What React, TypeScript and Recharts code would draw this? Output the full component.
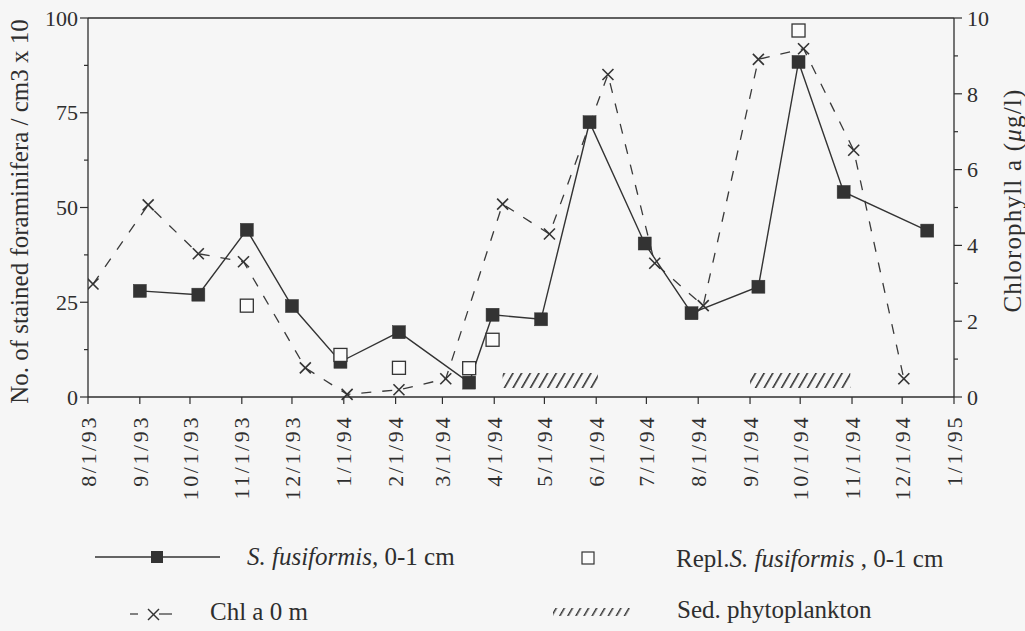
import React from 'react';
import { ComposedChart, Line, XAxis, YAxis, ReferenceArea, ReferenceLine } from 'recharts';

const FONT = '"Liberation Serif", "Times New Roman", serif';
const INK = '#2e2e2e';
const BG = '#f6f6f6';

// x-axis month ticks
const tickDates = [
  '8/1/93', '9/1/93', '10/1/93', '11/1/93', '12/1/93', '1/1/94', '2/1/94', '3/1/94', '4/1/94',
  '5/1/94', '6/1/94', '7/1/94', '8/1/94', '9/1/94', '10/1/94', '11/1/94', '12/1/94', '1/1/95',
];
const leftTicks = [0, 12.5, 25, 37.5, 50, 62.5, 75, 87.5, 100];
const leftLabels = [0, 25, 50, 75, 100];
const rightTicks = [0, 1, 2, 3, 4, 5, 6, 7, 8, 9, 10];
const rightLabels = [0, 2, 4, 6, 8, 10];

// S. fusiformis, 0-1 cm (left axis)
const sDates = [
  '9/1/93', '10/6/93', '11/4/93', '12/1/93', '12/30/93', '2/3/94', '3/17/94', '3/31/94',
  '4/29/94', '5/28/94', '6/30/94', '7/28/94', '9/6/94', '9/30/94', '10/27/94', '12/16/94',
];
const sValues = [28.0, 27.0, 44.1, 24.0, 9.3, 17.1, 3.8, 21.7, 20.5, 72.5, 40.5, 22.1, 29.1, 88.4, 54.1, 43.9];

// Repl. S. fusiformis, 0-1 cm (left axis)
const replDates = ['11/4/93', '12/30/93', '2/3/94', '3/17/94', '3/31/94', '9/30/94'];
const replValues = [24.1, 11.1, 7.7, 7.6, 15.1, 96.7];

// Chl a 0 m (right axis)
const chlDates = [
  '8/4/93', '9/6/93', '10/6/93', '11/2/93', '12/9/93', '1/3/94', '2/3/94', '3/3/94', '4/6/94',
  '5/4/94', '6/8/94', '7/6/94', '8/4/94', '9/6/94', '10/3/94', '11/2/94', '12/2/94',
];
const chlValues = [2.98, 5.07, 3.78, 3.57, 0.77, 0.07, 0.19, 0.48, 5.09, 4.3, 8.51, 3.53, 2.41, 8.91, 9.19, 6.51, 0.48];

// Sed. phytoplankton periods (band drawn on left axis units)
const sedStarts = ['4/6/94', '9/1/94'];
const sedEnds = ['6/2/94', '10/31/94'];
const sedBandLow = 2.4;
const sedBandHigh = 6.3;

const toTime = (s: string) => {
  const [m, d, y] = s.split('/').map(Number);
  return Date.UTC(1900 + y, m - 1, d);
};

const tickValues = tickDates.map(toTime);
const sData = sDates.map((d, i) => ({ t: toTime(d), v: sValues[i] }));
const replData = replDates.map((d, i) => ({ t: toTime(d), v: replValues[i] }));
const chlData = chlDates.map((d, i) => ({ t: toTime(d), v: chlValues[i] }));

const XTick = (props: any) => {
  const { x, y, payload } = props;
  const idx = tickValues.indexOf(payload.value);
  const label = idx >= 0 ? tickDates[idx] : '';
  const axisY = y - 18;
  return (
    <g>
      <line x1={x} x2={x} y1={axisY} y2={axisY + 7} stroke={INK} strokeWidth={1.2} />
      <text
        x={x}
        y={y}
        transform={`rotate(-90 ${x} ${y})`}
        textAnchor="end"
        dy="0.35em"
        style={{ fontFamily: FONT }}
        fontSize={22}
        letterSpacing={2.6}
        fill={INK}
      >
        {label}
      </text>
    </g>
  );
};

const LeftTick = (props: any) => {
  const { x, y, payload } = props;
  const axisX = x + 10;
  const major = leftLabels.includes(payload.value);
  return (
    <g>
      <line x1={axisX - (major ? 8 : 4)} x2={axisX} y1={y} y2={y} stroke={INK} strokeWidth={1.2} />
      {major && (
        <text x={x} y={y} dy="0.35em" textAnchor="end" style={{ fontFamily: FONT }} fontSize={22} fill={INK}>
          {payload.value}
        </text>
      )}
    </g>
  );
};

const RightTick = (props: any) => {
  const { x, y, payload } = props;
  const axisX = x - 13;
  const major = rightLabels.includes(payload.value);
  return (
    <g>
      <line x1={axisX} x2={axisX + (major ? 8 : 4)} y1={y} y2={y} stroke={INK} strokeWidth={1.2} />
      {major && (
        <text x={x} y={y} dy="0.35em" textAnchor="start" style={{ fontFamily: FONT }} fontSize={22} fill={INK}>
          {payload.value}
        </text>
      )}
    </g>
  );
};

const LeftTitle = (props: any) => {
  const vb = props.viewBox || {};
  const cx = 19;
  const cy = (vb.y ?? 18) + (vb.height ?? 379) / 2 + 4;
  return (
    <text
      x={cx}
      y={cy}
      transform={`rotate(-90 ${cx} ${cy})`}
      textAnchor="middle"
      dy="0.35em"
      style={{ fontFamily: FONT }}
      fontSize={25}
      fill={INK}
    >
      No. of stained foraminifera / cm3 x 10
    </text>
  );
};

const RightTitle = (props: any) => {
  const vb = props.viewBox || {};
  const cx = 1012;
  const cy = (vb.y ?? 18) + (vb.height ?? 379) / 2 - 7;
  return (
    <text
      x={cx}
      y={cy}
      transform={`rotate(-90 ${cx} ${cy})`}
      textAnchor="middle"
      dy="0.35em"
      style={{ fontFamily: FONT }}
      fontSize={25}
      letterSpacing={1.2}
      fill={INK}
    >
      Chlorophyll a (<tspan fontStyle="italic">μ</tspan>g/l)
    </text>
  );
};

const FilledSquare = (props: any) => {
  const { cx, cy, index } = props;
  if (cx == null || cy == null) return <g key={index} />;
  return <rect key={index} x={cx - 6.5} y={cy - 6.5} width={13} height={13} fill="#333" stroke="#333" strokeWidth={0.5} />;
};

const OpenSquare = (props: any) => {
  const { cx, cy, index } = props;
  if (cx == null || cy == null) return <g key={index} />;
  return <rect key={index} x={cx - 6.5} y={cy - 6.5} width={13} height={13} fill="#fbfbfb" stroke="#333" strokeWidth={1.3} />;
};

const XMark = (props: any) => {
  const { cx, cy, index } = props;
  if (cx == null || cy == null) return <g key={index} />;
  const r = 5.5;
  return (
    <g key={index}>
      <line x1={cx - r} y1={cy - r} x2={cx + r} y2={cy + r} stroke="#333" strokeWidth={1.6} />
      <line x1={cx - r} y1={cy + r} x2={cx + r} y2={cy - r} stroke="#333" strokeWidth={1.6} />
    </g>
  );
};

const Legend = () => (
  <svg width={1025} height={111} style={{ position: 'absolute', left: 0, top: 520 }}>
    <defs>
      <pattern id="hatchLegend" patternUnits="userSpaceOnUse" width={7} height={7} patternTransform="rotate(30)">
        <line x1={0} y1={0} x2={0} y2={7} stroke="#333" strokeWidth={3} />
      </pattern>
    </defs>
    {/* row 1 */}
    <line x1={95} x2={220} y1={37} y2={37} stroke="#333" strokeWidth={1.3} />
    <rect x={151} y={31} width={12} height={12} fill="#333" />
    <text x={247} y={45} style={{ fontFamily: FONT }} fontSize={25} fill={INK}>
      <tspan fontStyle="italic">S. fusiformis,</tspan> 0-1 cm
    </text>
    <rect x={582} y={32} width={12} height={12} fill="#fbfbfb" stroke="#333" strokeWidth={1.2} />
    <text x={676} y={47} style={{ fontFamily: FONT }} fontSize={25} fill={INK}>
      Repl.<tspan fontStyle="italic">S. fusiformis</tspan> , 0-1 cm
    </text>
    {/* row 2 */}
    <line x1={130} x2={138} y1={94} y2={94} stroke="#333" strokeWidth={1.2} />
    <line x1={148} y1={89} x2={159} y2={100} stroke="#333" strokeWidth={1.4} />
    <line x1={148} y1={100} x2={159} y2={89} stroke="#333" strokeWidth={1.4} />
    <line x1={159} x2={172} y1={94} y2={94} stroke="#333" strokeWidth={1.2} />
    <text x={210} y={100} style={{ fontFamily: FONT }} fontSize={25} fill={INK}>
      Chl a 0 m
    </text>
    <rect x={553} y={88} width={77} height={8} fill="url(#hatchLegend)" />
    <text x={677} y={98} style={{ fontFamily: FONT }} fontSize={25} fill={INK}>
      Sed. phytoplankton
    </text>
  </svg>
);

export default function App() {
  return (
    <div style={{ position: 'absolute', left: 0, top: 0, width: 1025, height: 631, background: BG }}>
      <ComposedChart width={1025} height={631} margin={{ top: 18, right: 0, bottom: 134, left: 0 }}>
        <defs>
          <pattern id="hatch" patternUnits="userSpaceOnUse" width={7.5} height={7.5} patternTransform="rotate(30)">
            <line x1={0} y1={0} x2={0} y2={7.5} stroke="#333" strokeWidth={3.2} />
          </pattern>
        </defs>
        <XAxis
          type="number"
          dataKey="t"
          domain={[tickValues[0], tickValues[tickValues.length - 1]]}
          ticks={tickValues}
          interval={0}
          height={100}
          tickSize={8}
          tickMargin={10}
          tickLine={false}
          axisLine={{ stroke: INK, strokeWidth: 1.3 }}
          tick={<XTick />}
          allowDataOverflow
        />
        <YAxis
          yAxisId="left"
          orientation="left"
          domain={[0, 100]}
          ticks={leftTicks}
          interval={0}
          width={88}
          tickSize={8}
          tickMargin={2}
          tickLine={false}
          axisLine={{ stroke: INK, strokeWidth: 1.3 }}
          tick={<LeftTick />}
          label={<LeftTitle />}
        />
        <YAxis
          yAxisId="right"
          orientation="right"
          domain={[0, 10]}
          ticks={rightTicks}
          interval={0}
          width={71}
          tickSize={8}
          tickMargin={5}
          tickLine={false}
          axisLine={{ stroke: INK, strokeWidth: 1.3 }}
          tick={<RightTick />}
          label={<RightTitle />}
        />
        <ReferenceLine yAxisId="left" y={100} stroke={INK} strokeWidth={1.3} />
        {sedStarts.map((s, i) => (
          <ReferenceArea
            key={s}
            yAxisId="left"
            x1={toTime(s)}
            x2={toTime(sedEnds[i])}
            y1={sedBandLow}
            y2={sedBandHigh}
            fill="url(#hatch)"
            fillOpacity={1}
            stroke="none"
          />
        ))}
        <Line
          yAxisId="right"
          data={chlData}
          dataKey="v"
          stroke="#3a3a3a"
          strokeWidth={1.3}
          strokeDasharray="10 11"
          dot={XMark}
          activeDot={false}
          isAnimationActive={false}
        />
        <Line
          yAxisId="left"
          data={sData}
          dataKey="v"
          stroke="#333"
          strokeWidth={1.4}
          dot={FilledSquare}
          activeDot={false}
          isAnimationActive={false}
        />
        <Line
          yAxisId="left"
          data={replData}
          dataKey="v"
          stroke="none"
          dot={OpenSquare}
          activeDot={false}
          isAnimationActive={false}
        />
      </ComposedChart>
      <Legend />
    </div>
  );
}
